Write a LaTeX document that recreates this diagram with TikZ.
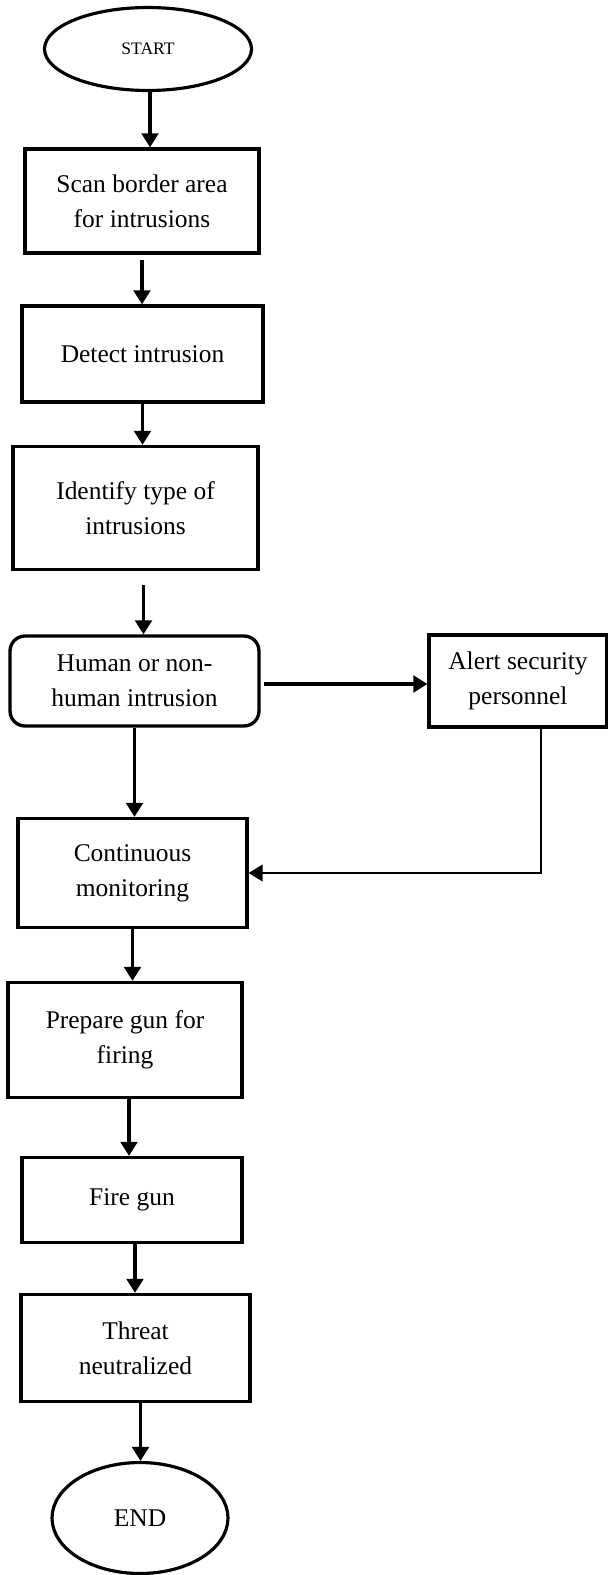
\documentclass[tikz,border=0pt]{standalone}
\usepackage{fontspec}
\setmainfont{Liberation Serif}
\usetikzlibrary{shapes,arrows.meta}

\begin{document}
\begin{tikzpicture}[x=0.02cm,y=-0.02cm]
\tikzstyle{box}=[rectangle,draw,line width=1.9pt,align=center,inner sep=0pt,font=\fontsize{14.5}{20}\selectfont]
\tikzstyle{term}=[ellipse,draw,line width=1.8pt,inner sep=0pt]
\tikzstyle{flow}=[-{Triangle[length=8pt,width=9.5pt]},line width=1.9pt]
\useasboundingbox (0,0) rectangle (608,1575);
\node[term,minimum width=4.14cm,minimum height=1.66cm,font=\fontsize{10}{12}\selectfont] (start) at (148,49) {START};
\node[box,minimum width=4.68cm,minimum height=2.08cm] (scan) at (142,201) {Scan border area\\for intrusions};
\node[box,minimum width=4.82cm,minimum height=1.92cm] (detect) at (142.5,354) {Detect intrusion};
\node[box,minimum width=4.9cm,minimum height=2.46cm] (identify) at (135.5,508) {Identify type of\\intrusions};
\node[box,rounded corners=0.3cm,minimum width=4.98cm,minimum height=1.8cm] (human) at (134.5,681) {Human or non-\\human intrusion};
\node[box,minimum width=3.56cm,minimum height=1.84cm] (alert) at (518,681) {Alert security\\personnel};
\node[box,minimum width=4.58cm,minimum height=2.18cm] (cont) at (132.5,873) {Continuous\\monitoring};
\node[box,minimum width=4.68cm,minimum height=2.3cm] (prepare) at (125,1040) {Prepare gun for\\firing};
\node[box,minimum width=4.4cm,minimum height=1.7cm] (fire) at (132,1200) {Fire gun};
\node[box,minimum width=4.58cm,minimum height=2.14cm] (threat) at (135.5,1348) {Threat\\neutralized};
\node[term,minimum width=3.52cm,minimum height=2.22cm,font=\fontsize{14.5}{17}\selectfont] (end) at (140,1518) {END};
% main flow
\draw[flow] ([xshift=0.04cm]start.south) -- ([xshift=0.04cm]start.south |- scan.north);
\draw[flow,shorten <=3pt] (scan.south) -- (scan.south |- detect.north);
\draw[flow] (detect.south) -- (detect.south |- identify.north);
\draw[flow,shorten <=8pt] ([xshift=0.16cm]identify.south) -- ([xshift=0.16cm]identify.south |- human.north);
\draw[flow] (human.south) -- (human.south |- cont.north);
\draw[flow] (cont.south) -- (cont.south |- prepare.north);
\draw[flow] ([xshift=0.08cm]prepare.south) -- ([xshift=0.08cm]prepare.south |- fire.north);
\draw[flow] ([xshift=0.06cm]fire.south) -- ([xshift=0.06cm]fire.south |- threat.north);
\draw[flow] ([xshift=0.1cm]threat.south) -- ([xshift=0.1cm]threat.south |- end.north);
% side branch
\draw[flow,shorten <=2pt] ([yshift=-0.06cm]human.east) -- ([yshift=-0.06cm]human.east -| alert.west);
\draw[-{Triangle[length=8pt,width=9.5pt]},line width=1.2pt] ([xshift=0.46cm]alert.south) |- (cont.east);
\end{tikzpicture}
\end{document}
